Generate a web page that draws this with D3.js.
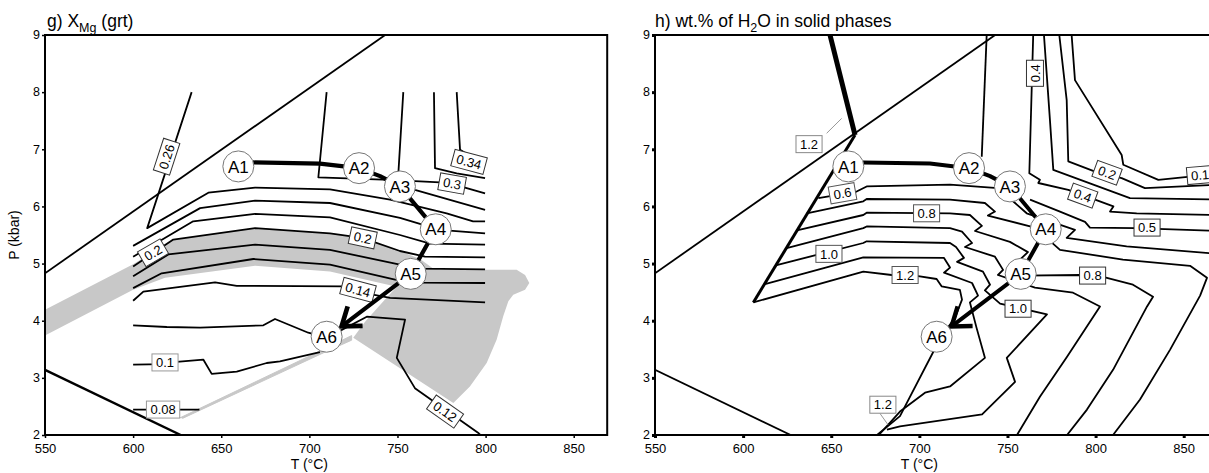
<!DOCTYPE html>
<html lang="en">
<head>
<meta charset="UTF-8">
<title>XMg (grt) and wt.% H2O in solid phases</title>
<script src="https://d3js.org/d3.v7.min.js"></script>
<style>
  body { margin: 0; background: #fff; }
  svg text { font-family: "Liberation Sans", Arial, sans-serif; fill: #000; }
</style>
</head>
<body>
<div id="chart"></div>
<script>
// ---------- shared values (T in °C, P in kbar) ----------
const xTicks = [550, 600, 650, 700, 750, 800, 850];
const yTicks = [2, 3, 4, 5, 6, 7, 8, 9];

const upperLine = [[550, 4.83], [743, 9]];
const lowerLine = [[550, 3.14], [627, 2]];

// P-T path A1 -> A6 (last point = arrow tip)
const ptPath = [[668, 6.77], [706, 6.75], [728.2, 6.67], [740.1, 6.53], [751.4, 6.35],
                [771.7, 5.60], [757.5, 4.82], [718.3, 3.90]];
const stationNames = ["A1", "A2", "A3", "A4", "A5", "A6"];
const stationT = [659.7, 728.2, 751.4, 771.7, 757.5, 709.8];
const stationP = [6.70, 6.67, 6.35, 5.60, 4.82, 3.72];

// ---------- g) XMg (grt) ----------
const xmgShade = [[550, 4.19], [600, 4.99], [622.8, 5.42], [669.2, 5.62], [711.7, 5.53], [729.9, 5.45],
  [751.4, 5.22], [762.8, 5.08], [770, 4.92], [774.1, 4.89], [817.6, 4.89], [822.4, 4.80], [824.8, 4.66],
  [822.4, 4.54], [815.7, 4.455], [812.9, 4.34], [810, 4.08], [806.3, 3.67], [800.6, 3.26], [791.1, 2.85],
  [781.7, 2.56], [724.9, 3.70], [731.6, 3.98], [742.9, 4.37], [749.6, 4.595], [711.7, 4.86],
  [669.2, 4.96], [618.1, 4.75], [600, 4.54], [550, 3.74]];
const xmgShadeThin = [[626.6, 2.30], [706, 3.47], [724, 3.74], [724, 3.66], [706, 3.41], [628, 2.29]];

const xmg034 = [[783.6, 8.0], [785.5, 6.99], [798.7, 6.745]];
const xmg032 = [[770.7, 8.0], [771.3, 6.67], [783.6, 6.58], [799.7, 6.495]];
const xmg030 = [[709.8, 8.0], [705.1, 6.51], [745.8, 6.465], [774.1, 6.42], [788.3, 6.33], [799.7, 6.23]];
const xmg028 = [[753.3, 8.0], [750.5, 6.58], [759.9, 6.29], [799.7, 5.94]];
const xmg026 = [[633.2, 8.0], [608, 5.62], [642.7, 6.24], [669.2, 6.33], [711.7, 6.30], [745.8, 6.12],
  [777.9, 5.88], [792.9, 5.74], [799.7, 5.74]];
const xmg024 = [[600, 5.31], [638, 5.97], [669.2, 6.10], [711.7, 6.06], [751.4, 5.80], [774.1, 5.59], [799.7, 5.53]];
const xmg022 = [[600, 5.12], [634.1, 5.74], [669.2, 5.87], [711.7, 5.81], [751.4, 5.50], [768.5, 5.35], [799.7, 5.33]];
const xmg020 = [[600, 4.95], [622.8, 5.42], [669.2, 5.62], [711.7, 5.53], [729.9, 5.45], [751.4, 5.22],
  [765.6, 5.12], [799.7, 5.11]];
const xmg018 = [[600, 4.78], [620, 5.16], [669.2, 5.33], [711.7, 5.24], [751.4, 4.98], [762.8, 4.91], [799.7, 4.90]];
const xmg016 = [[600, 4.57], [616.2, 4.83], [668.2, 5.08], [711.7, 4.98], [748.6, 4.72], [762.8, 4.665], [799.7, 4.66]];
const xmg014 = [[600, 4.35], [605.8, 4.51], [646.5, 4.67], [658.8, 4.61], [719.1, 4.60], [736.1, 4.455],
  [745.8, 4.40], [799.7, 4.32]];
const xmg012 = [[600, 3.92], [619.1, 3.89], [638, 3.88], [673.9, 3.92], [680.5, 4.03], [699.4, 3.79],
  [709.8, 3.70], [732.6, 4.07], [754.3, 4.02], [749.6, 3.35], [759.9, 2.82], [795.7, 2.04], [797, 2.0]];
const xmg010 = [[600, 3.23], [618, 3.24], [624.7, 3.28], [639.8, 3.32], [644.6, 3.07], [658.8, 3.11],
  [675.8, 3.26], [683.3, 3.29], [706, 3.45]];
const xmg008 = [[600, 2.445], [637.6, 2.445]];

// label text, T, P, rotation, border colour
const xmgLabels = [
  ["0.26", 619.0, 6.87, -72, "#333"], ["0.34", 790.6, 6.78, 15, "#333"], ["0.3", 781, 6.40, 10, "#333"],
  ["0.2", 730.3, 5.45, 12, "#333"], ["0.2", 611.3, 5.19, -30, "#333"], ["0.14", 727.6, 4.54, 15, "#333"],
  ["0.1", 618.1, 3.27, 0, "#999"], ["0.08", 617, 2.445, 0, "#999"], ["0.12", 777, 2.41, 35, "#333"]
];

// ---------- h) wt.% of H2O in solid phases ----------
const h2oBoundTop = [[649.3, 9], [663.5, 7.25]];
const h2oBound = [[663.5, 7.25], [605.8, 4.32]];
const h2oLeaderTop = [[647.4, 7.28], [655.9, 7.54]];
const h2oLeaderBottom = [[677.7, 2.375], [682.2, 2.18]];
const h2oA2 = [[738.2, 9], [735.4, 6.87]];
const h2o01 = [[786.4, 9], [788.3, 8.21], [814.8, 6.90], [815.7, 6.73], [835.6, 6.465], [853.6, 6.52], [869, 6.55]];
const h2o02 = [[779.4, 9], [783.6, 7.86], [784.5, 6.79], [799.7, 6.61], [814.8, 6.495], [828, 6.32], [869, 6.38]];
const h2o03 = [[770.7, 9], [774.1, 7.51], [776, 6.64], [819.5, 6.145], [869, 6.12]];
const h2o04 = [[764.6, 9], [762.4, 6.58], [768.4, 6.465], [767.5, 6.41], [784.5, 6.29], [799.7, 6.12],
  [810.1, 6.00], [808.2, 5.91], [823.3, 5.88], [869, 5.85]];
const h2o05 = [[762.8, 6.12], [779.8, 5.91], [794, 5.73], [796.8, 5.63], [822.4, 5.62], [869, 5.57]];
const h2o06 = [[642.7, 6.145], [664.4, 6.26], [670.1, 6.35], [717.4, 6.38], [744.6, 6.32], [754.3, 6.06],
  [760.9, 5.88], [788.3, 5.59], [783.6, 5.45], [817.6, 5.30], [869, 5.17]];
const h2o07 = [[636.1, 5.88], [668.2, 6.09], [670.1, 6.13], [717.4, 6.12], [737.2, 6.06], [742.9, 5.91],
  [738.9, 5.84], [765.6, 5.63], [779.8, 5.24], [815.5, 5.07], [853.6, 4.96], [863.2, 4.75], [859.3, 4.44],
  [842.2, 3.49], [825.2, 2.62], [809.9, 2.0]];
const h2o08 = [[630.5, 5.58], [668.2, 5.85], [670.1, 5.89], [717.4, 5.88], [728.7, 5.85], [735.5, 5.66],
  [731.6, 5.57], [751.4, 5.38], [761.6, 5.20], [757.1, 5.07], [758.2, 4.79], [791.1, 4.80], [805.3, 4.76],
  [821.2, 4.63], [832.6, 4.42], [829.2, 4.25], [809.9, 3.14], [795.1, 2.445], [783.8, 2.0]];
const h2o09 = [[624.7, 5.27], [668.2, 5.62], [670.1, 5.65], [717.4, 5.62], [724.2, 5.56], [729.9, 5.36],
  [725.9, 5.29], [742.9, 5.12], [747.5, 4.89], [744.6, 4.80], [765.6, 4.58], [787.2, 4.49], [802.5, 4.25],
  [783.8, 3.37], [768.4, 2.67], [755.4, 2.0]];
const h2o10 = [[618.5, 4.97], [668.2, 5.36], [670.1, 5.39], [717.4, 5.36], [720.8, 5.29], [725.3, 5.10],
  [721.4, 5.03], [736.1, 4.86], [740.1, 4.63], [737.2, 4.53], [745.8, 4.30], [772.4, 4.11], [749.6, 3.35],
  [754.3, 2.93], [735.6, 2.36], [689, 2.15], [681.6, 2.095]];
const h2o11 = [[612.4, 4.64], [668.2, 5.11], [713.9, 5.10], [717.4, 4.93], [714, 4.84], [729.9, 4.66],
  [733.3, 4.44], [728.7, 4.32], [732.5, 3.87], [737.2, 3.35], [717.4, 2.85], [703.2, 2.74], [689, 2.41], [677, 2.0]];
const h2o12 = [[605.8, 4.32], [668.2, 4.86], [684.3, 4.80], [699.4, 4.78], [709.8, 4.73], [712.7, 4.60],
  [723, 4.54], [724.2, 4.37], [720.2, 4.05], [714.5, 3.81], [710, 3.58], [689, 2.33], [676, 2.0]];

const h2oLabels = [
  ["1.2", 637.4, 7.09, 0, "#888"], ["0.6", 656.4, 6.23, -10, "#555"], ["0.8", 704.1, 5.88, 0, "#555"],
  ["1.0", 648.7, 5.17, 0, "#555"], ["1.2", 691.9, 4.80, 0, "#555"], ["0.4", 765.6, 8.33, -90, "#333"],
  ["0.2", 806.5, 6.59, 20, "#333"], ["0.1", 859.3, 6.55, -5, "#333"], ["0.4", 792.7, 6.19, 20, "#333"],
  ["0.5", 829.2, 5.63, 0, "#333"], ["0.8", 798.3, 4.79, 0, "#333"], ["1.0", 756.0, 4.21, 0, "#333"],
  ["1.2", 679.3, 2.53, 0, "#888"]
];

// ---------- drawing ----------
const svg = d3.select("#chart").append("svg").attr("width", 1209).attr("height", 473);
const plotW = 562.2, plotTop = 35, plotBottom = 435;

function makePanel(left, id) {
  const x = d3.scaleLinear().domain([550, 869]).range([left, left + plotW]);
  const y = d3.scaleLinear().domain([2, 9]).range([plotBottom, plotTop]);
  const g = svg.append("g");
  g.append("clipPath").attr("id", id).append("rect")
    .attr("x", left).attr("y", plotTop).attr("width", plotW).attr("height", plotBottom - plotTop);
  const plot = g.append("g").attr("clip-path", `url(#${id})`);
  const line = d3.line().x(d => x(d[0])).y(d => y(d[1]));
  return { x, y, g, plot, line, left };
}

function drawAxes(p, tickW) {
  const xa = p.g.append("g").attr("transform", `translate(0,${plotBottom})`)
    .call(d3.axisBottom(p.x).tickValues(xTicks).tickFormat(d3.format("d")).tickSize(3).tickPadding(6));
  const ya = p.g.append("g").attr("transform", `translate(${p.left},0)`)
    .call(d3.axisLeft(p.y).tickValues(yTicks).tickFormat(d3.format("d")).tickSize(3).tickPadding(2));
  [xa, ya].forEach(a => {
    a.select(".domain").remove();
    a.selectAll(".tick line").attr("stroke", "#000").attr("stroke-width", tickW);
  });
  xa.selectAll(".tick text").attr("font-size", 13);
  ya.selectAll(".tick text").attr("font-size", 12.5).attr("dy", "0.3em");
  p.g.append("rect").attr("x", p.left).attr("y", plotTop).attr("width", plotW).attr("height", plotBottom - plotTop)
    .attr("fill", "none").attr("stroke", "#000").attr("stroke-width", 2);
  p.g.append("text").attr("x", p.x(700)).attr("y", 469).attr("text-anchor", "middle")
    .attr("font-size", 14).text("T (°C)");
}

function drawLines(p, list, w) {
  list.forEach(pts => p.plot.append("path").attr("d", p.line(pts)).attr("fill", "none")
    .attr("stroke", "#000").attr("stroke-width", w).attr("stroke-linejoin", "round"));
}

function drawLabels(p, labels) {
  labels.forEach(([txt, T, P, ang, col]) => {
    const gg = p.plot.append("g").attr("transform", `translate(${p.x(T)},${p.y(P)}) rotate(${ang})`);
    const r = gg.append("rect");
    const t = gg.append("text").attr("text-anchor", "middle").attr("dy", "0.36em")
      .attr("font-size", 13).text(txt);
    const w = t.node().getComputedTextLength() + 8;
    r.attr("x", -w / 2).attr("y", -8.5).attr("width", w).attr("height", 17)
      .attr("fill", "#fff").attr("stroke", col).attr("stroke-width", 1);
  });
}

function drawPath(p, w) {
  p.plot.append("path").attr("d", p.line(ptPath)).attr("fill", "none")
    .attr("stroke", "#000").attr("stroke-width", w).attr("stroke-linejoin", "round");
  // open arrow head at the last point
  const n = ptPath.length;
  const tx = p.x(ptPath[n - 1][0]), ty = p.y(ptPath[n - 1][1]);
  const bx = p.x(ptPath[n - 2][0]), by = p.y(ptPath[n - 2][1]);
  const a = Math.atan2(by - ty, bx - tx), s = 36 * Math.PI / 180, L = 21;
  const head = [[tx + L * Math.cos(a - s), ty + L * Math.sin(a - s)], [tx, ty],
                [tx + L * Math.cos(a + s), ty + L * Math.sin(a + s)]];
  p.plot.append("path").attr("d", d3.line()(head)).attr("fill", "none")
    .attr("stroke", "#000").attr("stroke-width", w + 0.5).attr("stroke-linejoin", "miter");
  stationNames.forEach((nm, i) => {
    const cx = p.x(stationT[i]), cy = p.y(stationP[i]);
    p.plot.append("circle").attr("cx", cx).attr("cy", cy).attr("r", 15.5)
      .attr("fill", "#fff").attr("stroke", "#777").attr("stroke-width", 1);
    p.plot.append("text").attr("x", cx).attr("y", cy).attr("dy", "0.36em")
      .attr("text-anchor", "middle").attr("font-size", 17).text(nm);
  });
}

// ----- panel g -----
const pg = makePanel(45, "clipG");
pg.plot.append("path").attr("d", pg.line(xmgShade)).attr("fill", "#c8c8c8").attr("stroke", "none");
pg.plot.append("path").attr("d", pg.line(xmgShadeThin)).attr("fill", "#c8c8c8").attr("stroke", "#c8c8c8").attr("stroke-width", 1);
drawLines(pg, [xmg034, xmg032, xmg030, xmg028, xmg026, xmg024, xmg022, xmg020, xmg018, xmg016,
  xmg014, xmg012, xmg010, xmg008, upperLine], 1.8);
drawLines(pg, [lowerLine], 2.4);
drawLabels(pg, xmgLabels);
drawPath(pg, 4.2);
drawAxes(pg, 1.5);
const tg = svg.append("text").attr("x", 47).attr("y", 27).attr("font-size", 17.5);
tg.append("tspan").text("g) X");
tg.append("tspan").attr("font-size", 12.5).attr("dy", 5).text("Mg");
tg.append("tspan").attr("dy", -5).text(" (grt)");
svg.append("text").attr("transform", "translate(19,235) rotate(-90)").attr("text-anchor", "middle")
  .attr("font-size", 14).text("P (kbar)");

// ----- panel h -----
const ph = makePanel(655, "clipH");
drawLines(ph, [h2oA2, h2o01, h2o02, h2o03, h2o04, h2o05, h2o06, h2o07, h2o08, h2o09, h2o10, h2o11, h2o12,
  upperLine, lowerLine], 1.8);
drawLines(ph, [h2oBound], 3);
drawLines(ph, [h2oBoundTop], 5);
ph.plot.append("path").attr("d", ph.line(h2oLeaderTop)).attr("stroke", "#999").attr("stroke-width", 1).attr("fill", "none");
ph.plot.append("path").attr("d", ph.line(h2oLeaderBottom)).attr("stroke", "#999").attr("stroke-width", 1).attr("fill", "none");
drawLabels(ph, h2oLabels);
drawPath(ph, 4);
drawAxes(ph, 3);
const th = svg.append("text").attr("x", 655).attr("y", 27).attr("font-size", 17.5);
th.append("tspan").text("h) wt.% of H");
th.append("tspan").attr("font-size", 12.5).attr("dy", 5).text("2");
th.append("tspan").attr("dy", -5).text("O in solid phases");
</script>
</body>
</html>
